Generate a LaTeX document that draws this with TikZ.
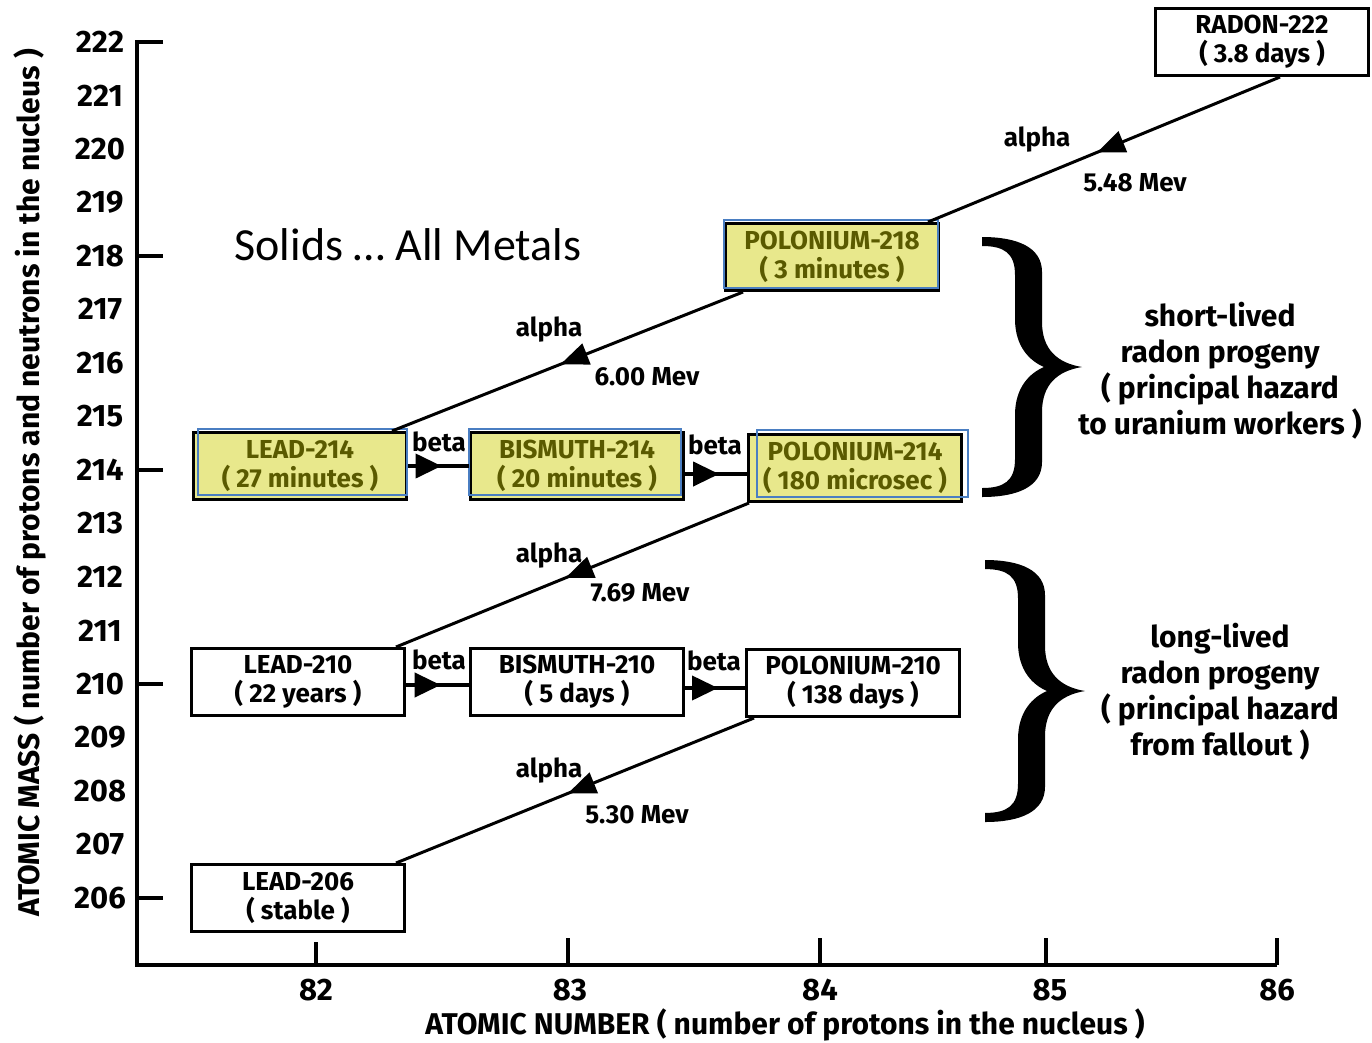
\documentclass[tikz,border=0pt]{standalone}
\usepackage{fontspec}
\setmainfont{Fira Sans}
\newfontfamily\slidefont{Carlito}
\usetikzlibrary{arrows.meta}
\usetikzlibrary{decorations.markings}
\definecolor{hiyellow}{RGB}{232,232,140}
\definecolor{hitext}{RGB}{90,90,0}
\definecolor{hiblue}{RGB}{74,126,194}
\tikzstyle{axis}=[line width=3.5pt]
\tikzstyle{nuclide}=[draw, line width=3pt, fill=white, minimum width=213pt, minimum height=67pt, inner sep=0pt, align=center, font=\bfseries\fontsize{26}{29}\selectfont]
\tikzstyle{hot}=[nuclide, fill=hiyellow, text=hitext]
\tikzstyle{frame}=[draw=hiblue, line width=1.5pt]
\tikzstyle{alphaline}=[line width=3pt, postaction={decorate}, decoration={markings, mark=at position 0.52 with {\arrow{Triangle[length=28pt,width=22pt]}}}]
\tikzstyle{betaline}=[line width=4pt, postaction={decorate}, decoration={markings, mark=at position 0.55 with {\arrow{Triangle[length=26pt,width=24pt]}}}]
\tikzstyle{tag}=[font=\bfseries\fontsize{26}{26}\selectfont]
\tikzstyle{ticklabel}=[font=\bfseries\fontsize{31}{31}\selectfont]
\tikzstyle{note}=[align=center, font=\bfseries\fontsize{30}{36}\selectfont]
\newcommand{\progenybrace}[3]{%
  \fill[shift={(#1,#2)}, yscale={(#3-#2)/260}]
    (0,0) .. controls (35,0) and (60,10) .. (60,35) -- (60,85)
    .. controls (60,112) and (75,126) .. (100,130)
    .. controls (75,134) and (60,148) .. (60,175) -- (60,225)
    .. controls (60,250) and (35,260) .. (0,260) -- (0,251)
    .. controls (22,251) and (33,244) .. (33,222) -- (33,178)
    .. controls (33,150) and (48,136) .. (62,130)
    .. controls (48,124) and (33,110) .. (33,82) -- (33,38)
    .. controls (33,16) and (22,9) .. (0,9) -- cycle;}

\begin{document}
\begin{tikzpicture}[x=1pt,y=-1pt]
  \useasboundingbox (0,0) rectangle (1372,1042);

  % axes
  \draw[axis] (163,42) -- (137,42) -- (137,965) -- (1277,965);
  \foreach \m in {218,214,210,206}
    \draw[axis] (137,{42+(222-\m)*53.5}) -- ++(26,0);
  \foreach \x/\h in {316/23,568/27,820/27,1046/27,1277/27}
    \draw[axis] (\x,965) -- ++(0,-\h);
  \foreach \m in {206,...,222}
    \node[ticklabel] (yl\m) at (100,{42+(222-\m)*53.5}) {\m};
  \foreach \x/\n in {316/82,570/83,820/84,1050/85,1277/86}
    \node[ticklabel] (xl\n) at (\x,990) {\n};
  \node[font=\bfseries\fontsize{30}{30}\selectfont] (xtitle) at (785,1025)
    {ATOMIC NUMBER ( number of protons in the nucleus )};
  \node[font=\bfseries\fontsize{30}{30}\selectfont, rotate=90] (ytitle) at (30,483)
    {ATOMIC MASS ( number of protons and neutrons in the nucleus )};

  % nuclides
  \node[nuclide] (rn) at (1262,42) {RADON-222\\( 3.8 days )};
  \node[hot] (po218) at (832,257) {POLONIUM-218\\( 3 minutes )};
  \node[hot] (pb214) at (300,466) {LEAD-214\\( 27 minutes )};
  \node[hot] (bi214) at (577,466) {BISMUTH-214\\( 20 minutes )};
  \node[hot] (po214) at (855,468) {POLONIUM-214\\( 180 microsec )};
  \node[nuclide] (pb210) at (298,682) {LEAD-210\\( 22 years )};
  \node[nuclide] (bi210) at (577,682) {BISMUTH-210\\( 5 days )};
  \node[nuclide] (po210) at (853,683) {POLONIUM-210\\( 138 days )};
  \node[nuclide] (pb206) at (298,898) {LEAD-206\\( stable )};

  \draw[frame] ([shift={(0,-2)}]po218.north west) rectangle ([shift={(-2,-4)}]po218.south east);
  \draw[frame] ([shift={(6,-2)}]pb214.north west) rectangle ([shift={(-1,-6)}]pb214.south east);
  \draw[frame] ([shift={(0,-2)}]bi214.north west) rectangle ([shift={(-4,-6)}]bi214.south east);
  \draw[frame] ([shift={(10,-3)}]po214.north west) rectangle ([shift={(5,-6)}]po214.south east);

  % decays
  \draw[alphaline] ([xshift=18pt]rn.south) -- ([xshift=-12pt]po218.north east);
  \draw[alphaline] ([xshift=19pt]po218.south west) -- ([xshift=-16pt]pb214.north east);
  \draw[betaline] (pb214.east) -- (bi214.west);
  \draw[betaline] ([yshift=-8pt]bi214.east) -- ([yshift=-6pt]po214.west);
  \draw[alphaline] ([xshift=2pt]po214.south west) -- ([xshift=-10pt]pb210.north east);
  \draw[betaline] ([yshift=-3pt]pb210.east) -- ([yshift=-3pt]bi210.west);
  \draw[betaline] ([yshift=-6pt]bi210.east) -- ([yshift=-5pt]po210.west);
  \draw[alphaline] ([xshift=9pt]po210.south west) -- ([xshift=-10pt]pb206.north east);

  \node[tag] (a1) at (1037,140) {alpha};
  \node[tag] (e1) at (1135,183) {5.48 Mev};
  \node[tag] (a2) at (549,330) {alpha};
  \node[tag] (e2) at (647,377) {6.00 Mev};
  \node[tag] (a3) at (549,556) {alpha};
  \node[tag] (e3) at (640,593) {7.69 Mev};
  \node[tag] (a4) at (549,771) {alpha};
  \node[tag] (e4) at (637,815) {5.30 Mev};
  \node[tag] (b1) at (439,442) {beta};
  \node[tag] (b2) at (715,445) {beta};
  \node[tag] (b3) at (439,660) {beta};
  \node[tag] (b4) at (714,661) {beta};

  % groups
  \progenybrace{982}{237}{497}
  \progenybrace{985}{560}{822}
  \node[note] (shortnote) at (1220,371)
    {short-lived\\radon progeny\\( principal hazard\\to uranium workers )};
  \node[note] (longnote) at (1220,692)
    {long-lived\\radon progeny\\( principal hazard\\from fallout )};

  \node[font=\slidefont\fontsize{46}{46}\selectfont] (solids) at (408,245) {Solids … All Metals};
\end{tikzpicture}
\end{document}
